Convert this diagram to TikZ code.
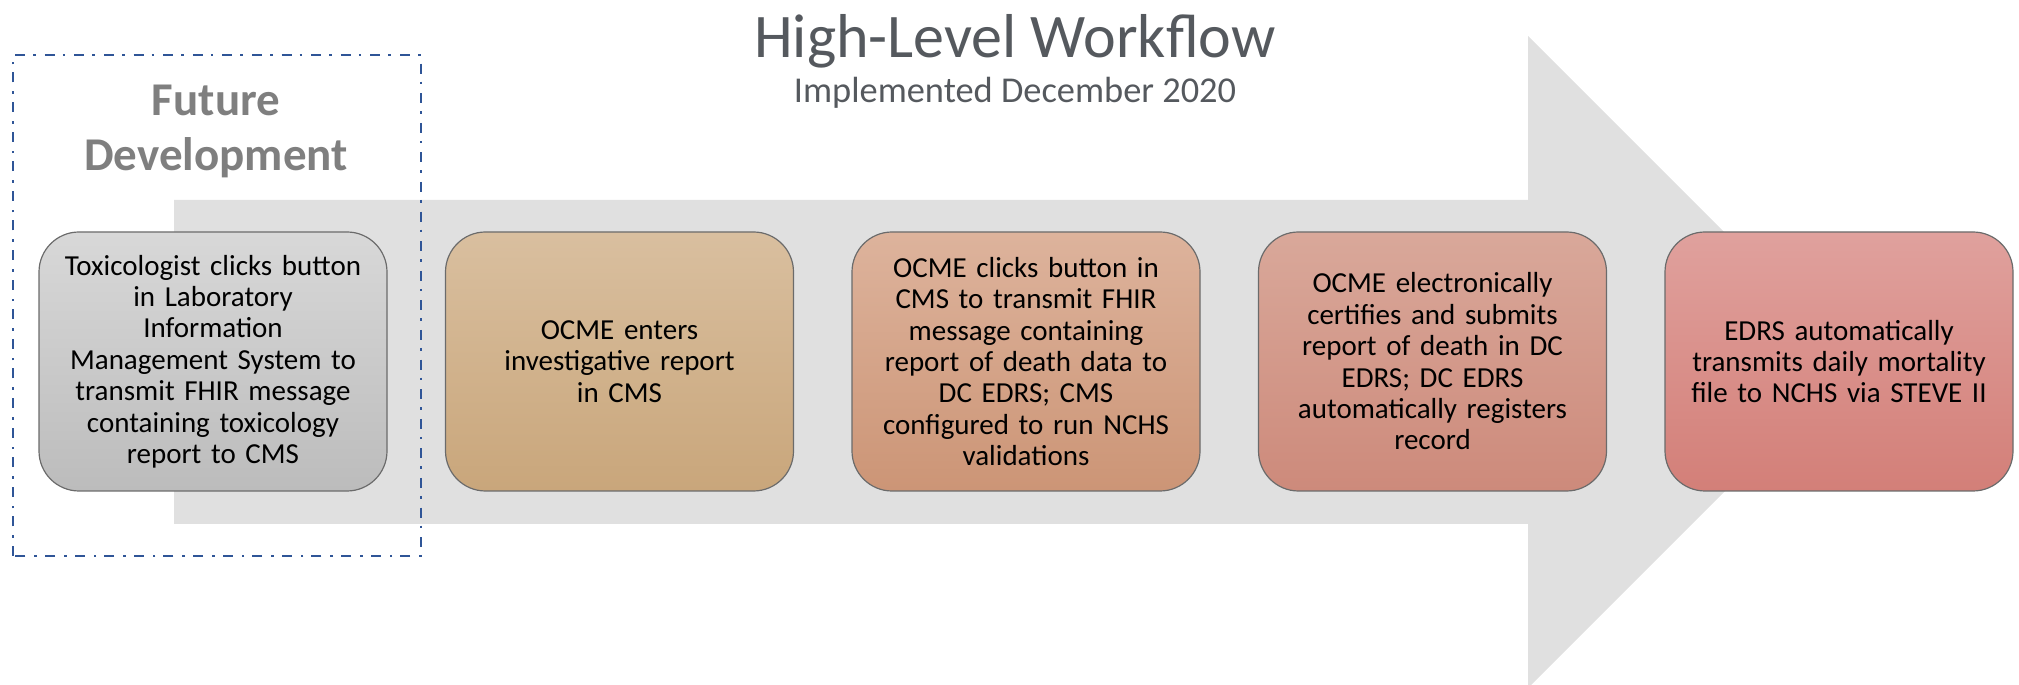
\documentclass[tikz,border=0pt]{standalone}
\usepackage{fontspec}
\setmainfont{Carlito}
\usepackage{tkz-euclide}
\usetikzlibrary{calc}
\definecolor{ArrowClr}{rgb}{0.878,0.878,0.878}
\definecolor{TitleClr}{rgb}{0.333,0.349,0.369}
\definecolor{FutureClr}{rgb}{0.498,0.498,0.498}
\definecolor{FrameClr}{rgb}{0.184,0.333,0.592}
\definecolor{EdgeClr}{rgb}{0.42,0.42,0.42}
\definecolor{GreyTop}{rgb}{0.847,0.847,0.847}
\definecolor{GreyBot}{rgb}{0.737,0.737,0.737}
\definecolor{TanTop}{rgb}{0.851,0.749,0.624}
\definecolor{TanBot}{rgb}{0.788,0.651,0.482}
\definecolor{SalmonTop}{rgb}{0.867,0.702,0.612}
\definecolor{SalmonBot}{rgb}{0.800,0.584,0.463}
\definecolor{RoseTop}{rgb}{0.851,0.659,0.604}
\definecolor{RoseBot}{rgb}{0.804,0.541,0.482}
\definecolor{RedTop}{rgb}{0.878,0.631,0.616}
\definecolor{RedBot}{rgb}{0.827,0.498,0.471}

\begin{document}
\begin{tikzpicture}[x=.5pt,y=.5pt,
  stepbox/.style={draw=EdgeClr,line width=.6pt,rounded corners=20pt,
    minimum width=174pt,minimum height=129.5pt,text width=154pt,
    align=center,inner sep=0pt,font=\fontsize{14.5}{15.7}\selectfont},
  futurelbl/.style={text=FutureClr,align=center,
    font=\fontsize{23.5}{27.5}\selectfont\bfseries}]

\tkzDefPoints{0/0/O,2019/685/Q}
\useasboundingbox (O) rectangle (Q);

% big grey arrow behind the steps
\tkzDefPoints{174/161/A1,1528/161/A2,1528/-3/A3,1854/323/A4,1528/649/A5,1528/485/A6,174/485/A7}
\tkzFillPolygon[fill=ArrowClr,draw=none](A1,A2,A3,A4,A5,A6,A7)

% future development frame
\tkzDefPoints{13/129/F1,421/630/F2}
\draw[FrameClr,line width=1.3pt,dash pattern=on 5pt off 4pt on 1.3pt off 4.5pt] (F1) rectangle (F2);

\node[futurelbl] (future) at (216,554) {Future\\Development};

\node[text=TitleClr,font=\fontsize{31}{36}\selectfont,anchor=base] (title) at (1015,627) {High-Level Workflow};
\node[text=TitleClr,font=\fontsize{18.2}{22}\selectfont,anchor=base] (subtitle) at (1015,582) {Implemented December 2020};

\node[stepbox,top color=GreyTop,bottom color=GreyBot] (tox) at (213,323.5)
  {Toxicologist clicks button\\ in Laboratory\\ Information\\ Management System to\\ transmit FHIR message\\ containing toxicology\\ report to CMS};
\node[stepbox,top color=TanTop,bottom color=TanBot] (enter) at (619.5,323.5)
  {OCME enters\\ investigative report\\ in CMS};
\node[stepbox,top color=SalmonTop,bottom color=SalmonBot] (send) at (1026,323.5)
  {OCME clicks button in\\ CMS to transmit FHIR\\ message containing\\ report of death data to\\ DC EDRS; CMS\\ configured to run NCHS\\ validations};
\node[stepbox,top color=RoseTop,bottom color=RoseBot] (certify) at (1432.5,323.5)
  {OCME electronically\\ certifies and submits\\ report of death in DC\\ EDRS; DC EDRS\\ automatically registers\\ record};
\node[stepbox,top color=RedTop,bottom color=RedBot] (nchs) at (1839,323.5)
  {EDRS automatically\\ transmits daily mortality\\ file to NCHS via STEVE II};

\end{tikzpicture}
\end{document}
